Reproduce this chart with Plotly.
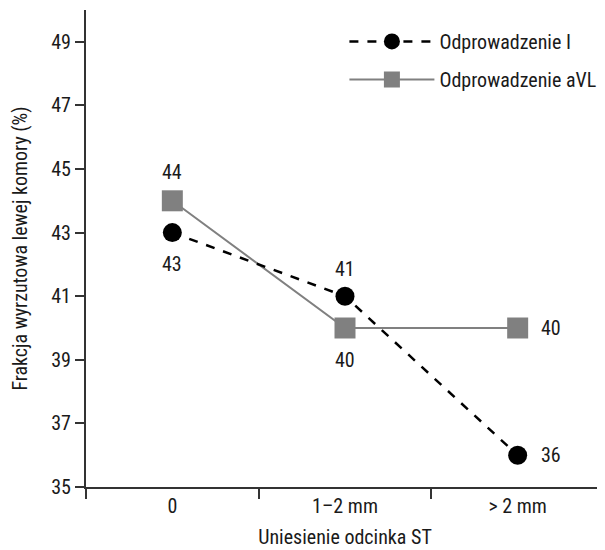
import plotly.graph_objects as go

categories = ["0", "1–2 mm", "> 2 mm"]
lead_I = [43, 41, 36]
lead_aVL = [44, 40, 40]
# label offsets (pixels) relative to each point
shift_I = [(0, -31), (0, 27), (33, 0)]
shift_aVL = [(0, 29), (0, -32), (33, 0)]
y_ticks = [35, 37, 39, 41, 43, 45, 47, 49]

FONT = "Liberation Sans Narrow, Roboto Condensed, Arial Narrow, Liberation Sans, sans-serif"
FS = 20
xs = [0, 1, 2]

fig = go.Figure()
fig.add_trace(go.Scatter(
    x=xs, y=lead_aVL, name="Odprowadzenie aVL", mode="lines+markers",
    line=dict(color="#808080", width=2),
    marker=dict(symbol="square", size=21, color="#808080"),
    legendrank=2, legendgroup="b", cliponaxis=False,
))
fig.add_trace(go.Scatter(
    x=xs, y=lead_I, name="Odprowadzenie I", mode="lines+markers",
    line=dict(color="black", width=2.5, dash="dash"),
    marker=dict(symbol="circle", size=19, color="black"),
    legendrank=1, legendgroup="a", cliponaxis=False,
))

for vals, shifts in ((lead_I, shift_I), (lead_aVL, shift_aVL)):
    for xi, v, (dx, dy) in zip(xs, vals, shifts):
        fig.add_annotation(x=xi, y=v, xref="x", yref="y", text=str(v),
                           showarrow=False, xshift=dx, yshift=dy,
                           font=dict(size=FS, color="#1a1a1a", family=FONT))

fig.update_layout(
    width=597, height=542,
    margin=dict(l=78, r=1, t=2, b=63),
    plot_bgcolor="white", paper_bgcolor="white",
    font=dict(family=FONT, size=FS, color="#1a1a1a"),
    legend=dict(x=0.995, y=0.975, xanchor="right", yanchor="top",
                bgcolor="rgba(0,0,0,0)", itemwidth=85, tracegroupgap=9,
                font=dict(size=FS)),
    xaxis=dict(
        range=[-0.5, 2.5], tickmode="array", tickvals=xs, ticktext=categories,
        showticklabels=True, ticks="",
        showgrid=False, zeroline=False,
        showline=True, linecolor="#333", linewidth=2, automargin=False,
        title=dict(text="Uniesienie odcinka ST", font=dict(size=FS), standoff=13),
    ),
    xaxis2=dict(
        overlaying="x", range=[-0.5, 2.5], tickmode="array",
        tickvals=[-0.5, 0.5, 1.5, 2.5], ticks="outside", ticklen=11,
        tickcolor="#333", tickwidth=2, showticklabels=False, automargin=False,
        showgrid=False, zeroline=False, side="bottom", anchor="y",
    ),
    yaxis=dict(
        range=[35, 50], tickmode="array", tickvals=y_ticks,
        ticks="outside", ticklen=9, tickcolor="#333", tickwidth=2, automargin=False,
        showgrid=False, zeroline=False, showline=True, linecolor="#333", linewidth=2,
        title=dict(text="Frakcja wyrzutowa lewej komory (%)", font=dict(size=FS), standoff=20),
    ),
)
fig.add_trace(go.Scatter(x=[None], y=[None], xaxis="x2", showlegend=False, hoverinfo="skip"))
fig.write_html("out.html")
